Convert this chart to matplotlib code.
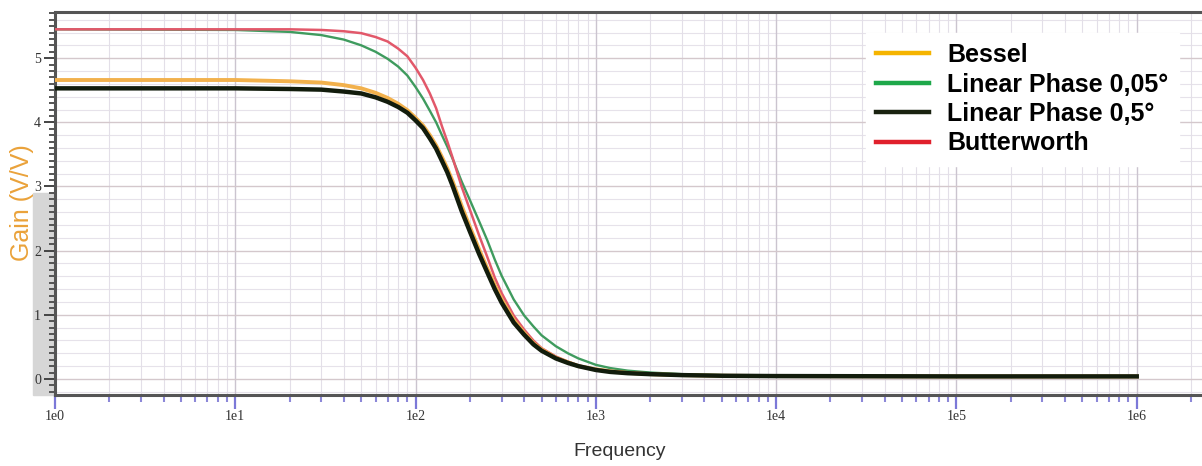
import numpy as np
import matplotlib
matplotlib.use("Agg")
import matplotlib.pyplot as plt
import matplotlib.ticker as mticker
from matplotlib.patches import Rectangle

# frequency points (Hz) and the gain of each filter at those points (V/V)
freq = [1, 10, 20, 30, 40, 50, 60, 70, 80, 90, 100, 110, 120, 130, 140, 150,
        160, 180, 200, 225, 250, 275, 300, 350, 400, 450, 500, 600, 700, 800,
        1000, 1200, 1500, 2000, 3000, 5000, 1e4, 1e5, 1e6]

bessel = [4.66, 4.66, 4.64, 4.62, 4.58, 4.53, 4.46, 4.38, 4.29, 4.19, 4.07,
          3.95, 3.80, 3.64, 3.46, 3.28, 3.09, 2.70, 2.37, 2.02, 1.72, 1.46,
          1.24, 0.92, 0.72, 0.56, 0.46, 0.33, 0.26, 0.20, 0.15, 0.12, 0.095,
          0.075, 0.06, 0.05, 0.045, 0.04, 0.04]

linphase_005 = [5.45, 5.44, 5.41, 5.36, 5.29, 5.20, 5.10, 4.99, 4.87, 4.73,
                4.55, 4.37, 4.18, 4.00, 3.80, 3.62, 3.44, 3.08, 2.79, 2.46,
                2.16, 1.86, 1.61, 1.24, 0.99, 0.82, 0.68, 0.51, 0.40, 0.32,
                0.22, 0.17, 0.13, 0.10, 0.075, 0.06, 0.05, 0.04, 0.04]

linphase_05 = [4.53, 4.53, 4.52, 4.51, 4.48, 4.45, 4.39, 4.32, 4.24, 4.15,
               4.03, 3.91, 3.75, 3.59, 3.40, 3.22, 3.02, 2.62, 2.30, 1.95,
               1.66, 1.40, 1.19, 0.88, 0.69, 0.54, 0.44, 0.32, 0.25, 0.20,
               0.14, 0.11, 0.09, 0.075, 0.06, 0.05, 0.045, 0.04, 0.04]

butterworth = [5.45, 5.45, 5.45, 5.44, 5.42, 5.39, 5.33, 5.26, 5.15, 5.03,
               4.85, 4.66, 4.45, 4.22, 3.94, 3.70, 3.46, 3.00, 2.64, 2.24,
               1.90, 1.58, 1.34, 0.99, 0.77, 0.60, 0.48, 0.35, 0.27, 0.21,
               0.15, 0.12, 0.10, 0.08, 0.06, 0.05, 0.045, 0.04, 0.04]

xticks = [1, 10, 100, 1000, 1e4, 1e5, 1e6]
xticklabels = ['1e0', '1e1', '1e2', '1e3', '1e4', '1e5', '1e6']

W, H = 1202, 466
fig = plt.figure(figsize=(W / 100, H / 100), dpi=100)
fig.patch.set_facecolor('white')

ax = fig.add_axes([55 / W, 71 / H, 1 - 55 / W, 383 / H])
ax.set_facecolor('white')
ax.set_zorder(2)

# grey strip behind the lower y labels
fig.patches.append(Rectangle((33 / W, 71 / H), 22 / W, 202 / H,
                             transform=fig.transFigure, color='#d6d6d6',
                             zorder=1))

ax.plot(freq, linphase_005, color='#3f9b5e', lw=1.7, zorder=3)
ax.plot(freq, butterworth, color='#e2586a', lw=1.8, zorder=4)
ax.plot(freq, bessel, color='#f2b14c', lw=2.8, zorder=5)
ax.plot(freq, linphase_05, color='#121c0c', lw=3.2, zorder=6)

ax.set_xscale('log')
ax.set_xlim(1, 10 ** 6.362)
ax.set_ylim(-0.25, 5.72)

ax.set_xticks(xticks)
ax.set_xticklabels(xticklabels, family='Liberation Serif', fontsize=10,
                   color='#333333')
ax.xaxis.set_minor_locator(mticker.LogLocator(base=10, subs=np.arange(2, 10)))
ax.xaxis.set_minor_formatter(mticker.NullFormatter())
ax.tick_params(axis='x', which='major', direction='out', length=10, width=1.6,
               color='#7c78d8', pad=1)
ax.tick_params(axis='x', which='minor', direction='out', length=5, width=1.5,
               color='#8c88d8')

ax.set_yticks([0, 1, 2, 3, 4, 5])
ax.set_yticklabels(['0', '1', '2', '3', '4', '5'], family='Liberation Serif',
                   fontsize=10, color='#333333')
ax.yaxis.set_minor_locator(mticker.MultipleLocator(0.1))
ax.tick_params(axis='y', which='major', direction='out', length=8, width=1.4,
               color='#444444', pad=2)
ax.tick_params(axis='y', which='minor', direction='out', length=4, width=1.4,
               color='#555555')

# grid: decades/integers stronger, sub-divisions faint
ax.grid(True, which='major', axis='x', color='#cbc4cf', lw=1.0, zorder=0)
ax.grid(True, which='minor', axis='x', color='#e3dfe8', lw=0.8, zorder=0)
ax.grid(True, which='major', axis='y', color='#d4c8cc', lw=1.0, zorder=0)
for yv in np.arange(-0.2, 5.7, 0.2):
    if abs(yv - round(yv)) > 1e-6:
        ax.axhline(yv, color='#e6e2ea', lw=0.8, zorder=0)

for side in ('top', 'bottom', 'left'):
    ax.spines[side].set_color('#555555')
    ax.spines[side].set_linewidth(2.2)
ax.spines['right'].set_visible(False)

fig.text(620 / W, 1 - 452 / H, 'Frequency', ha='center', va='center',
         family='Liberation Sans', fontsize=14, color='#333333')
fig.text(22 / W, 1 - 203 / H, 'Gain (V/V)', rotation=90, ha='center',
         va='center', family='Liberation Sans', fontsize=18, color='#eaa23a')

handles = [plt.Line2D([], [], color=c, lw=3.2)
           for c in ('#f5b400', '#1ea84a', '#1a2210', '#e0202c')]
labels = ['Bessel', 'Linear Phase 0,05°', 'Linear Phase 0,5°', 'Butterworth']
leg = ax.legend(handles, labels, loc='upper left',
                bbox_to_anchor=(866 / W, 1 - 33 / H),
                bbox_transform=fig.transFigure,
                prop={'family': 'Liberation Sans', 'weight': 'bold',
                      'size': 18},
                handlelength=2.1, handletextpad=0.75, labelspacing=0.22,
                borderpad=0.4, borderaxespad=0, frameon=True, fancybox=False,
                framealpha=1.0)
leg.get_frame().set_edgecolor('white')
leg.get_frame().set_facecolor('white')
leg.set_zorder(10)

fig.savefig('out.png', dpi=100, facecolor='white')
